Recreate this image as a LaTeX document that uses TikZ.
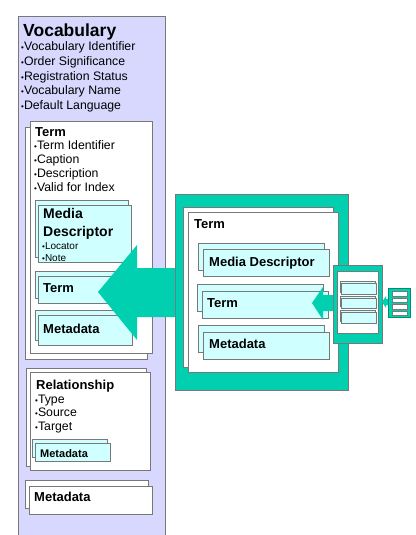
\documentclass[tikz,border=0pt]{standalone}
\usepackage{fontspec}
\setmainfont{Liberation Sans}
\definecolor{lav}{RGB}{216,216,255}
\definecolor{tealA}{RGB}{0,208,176}
\definecolor{tealD}{RGB}{0,140,110}
\definecolor{cyanl}{RGB}{208,255,255}
\definecolor{bord}{RGB}{120,120,120}
\newcommand\bul{{\fontsize{8}{8}\selectfont •}}
\tikzset{
  cardbox/.style={draw=bord,line width=0.6pt,anchor=north west,inner sep=0pt,outer sep=0pt},
  hdtxt/.style={anchor=base west,inner sep=0pt,font=\bfseries\fontsize{13}{15}\selectfont},
  bigtxt/.style={anchor=base west,inner sep=0pt,font=\bfseries\fontsize{17.5}{20}\selectfont},
  itemtxt/.style={anchor=base west,inner sep=0pt,font=\fontsize{12.3}{14}\selectfont},
  smalltxt/.style={anchor=base west,inner sep=0pt,font=\fontsize{10}{12}\selectfont},
  tealfill/.style={fill=tealA,draw=none}
}
% name, x1, y1, x2, y2, dx, dy, fill
\newcommand\cardpair[8]{%
  \node[cardbox,fill=#8,minimum width={#4-#2},minimum height={#5-#3}] (#1b) at ({#2+#6},{#3+#7}) {};
  \node[cardbox,fill=#8,minimum width={#4-#2},minimum height={#5-#3}] (#1) at (#2,#3) {};
}
\begin{document}
\begin{tikzpicture}[x=1pt,y=-1pt]
\useasboundingbox (0,0) rectangle (415,535);
% Vocabulary container
\node[cardbox,fill=lav,minimum width=147,minimum height=520] (voc) at (18,16) {};
\node[bigtxt] (vocT) at (23,37) {Vocabulary};
\foreach \t [count=\i from 0] in {Vocabulary Identifier,Order Significance,Registration Status,Vocabulary Name,Default Language}
  \node[itemtxt] (vi\i) at (21,{51+14.5*\i}) {\bul\t};
% Left Term card
\cardpair{lterm}{30}{121}{152}{353}{-5}{6}{white}
\node[hdtxt] (ltermT) at (35,136) {Term};
\foreach \t [count=\i from 0] in {Term Identifier,Caption,Description,Valid for Index}
  \node[itemtxt] (ti\i) at (34,{149+14.3*\i}) {\bul\t};
\cardpair{lmd}{38}{205}{131}{262}{-3}{-5}{cyanl}
\node[hdtxt,font=\bfseries\fontsize{14}{16}\selectfont] (lmdT1) at (43,218) {Media};
\node[hdtxt,font=\bfseries\fontsize{14}{16}\selectfont] (lmdT2) at (43,236) {Descriptor};
\node[smalltxt] (lmdI1) at (42,249) {\bul Locator};
\node[smalltxt] (lmdI2) at (42,261) {\bul Note};
\cardpair{lt}{38}{276}{132}{303}{-3}{-5}{cyanl}
\node[hdtxt] (ltT) at (43,292) {Term};
\cardpair{lmeta}{38}{315}{132}{345}{-3}{-5}{cyanl}
\node[hdtxt] (lmetaT) at (43,333) {Metadata};
% Relationship card
\cardpair{rel}{30}{372}{150}{470}{-4}{-4}{white}
\node[hdtxt] (relT) at (36,389) {Relationship};
\foreach \t [count=\i from 0] in {Type,Source,Target}
  \node[itemtxt] (ri\i) at (35,{403+13.5*\i}) {\bul\t};
\cardpair{rmeta}{35}{443}{110}{461}{-3}{-4}{cyanl}
\node[hdtxt,font=\bfseries\fontsize{11}{13}\selectfont] (rmetaT) at (40,457) {Metadata};
% Bottom Metadata card
\cardpair{bmeta}{29}{486}{152}{514}{-4}{-6}{white}
\node[hdtxt] (bmetaT) at (34,501) {Metadata};
% Right teal frame
\node[cardbox,fill=tealA,minimum width=173,minimum height=196] (frame) at (175,194) {};
% Big arrow
\coordinate (tip) at (98,292);
\fill[tealA] (tip) -- (137,245) -- (137,268) -- (frame.west |- 0,268) -- (frame.west |- 0,317) -- (137,317) -- (137,340) -- cycle;
% Right Term card
\cardpair{rterm}{188}{212}{338}{372}{-5}{-5}{white}
\node[hdtxt] (rtermT) at (194,228) {Term};
\cardpair{rmd}{203}{249}{329}{276}{-5}{-6}{cyanl}
\node[hdtxt] (rmdT) at (209,266) {Media Descriptor};
\cardpair{rt}{202}{291}{328}{318}{-5}{-7}{cyanl}
\node[hdtxt] (rtT) at (207,307) {Term};
\cardpair{rme}{203}{332}{329}{359}{-5}{-7}{cyanl}
\node[hdtxt] (rmeT) at (209,348) {Metadata};
% Small component
\node[cardbox,fill=tealA,minimum width=49,minimum height=78] (comp) at (333,265) {};
\node[cardbox,fill=white,minimum width=41,minimum height=62] (compin) at (337,271) {};
\cardpair{c1}{341}{283}{376}{294}{-1}{-2}{cyanl}
\cardpair{c2}{341}{298}{376}{308}{-1}{-2}{cyanl}
\cardpair{c3}{341}{312}{376}{323}{-1}{-2}{cyanl}
% Small arrow into Term
\fill[tealA] (312,303) -- (323,287) -- (323,295) -- (comp.west |- 0,295) -- (comp.west |- 0,311) -- (323,311) -- (323,320) -- cycle;
% Far-right icon
\node[cardbox,fill=tealA,draw=tealD,minimum width=22,minimum height=29] (icon) at (388,288) {};
\foreach \k in {0,1,2,3}
  \node[cardbox,fill=white,draw=bord,line width=0.4pt,minimum width=15,minimum height=4.5] (ic\k) at (392,{291.5+6.5*\k}) {};
\fill[tealA] (comp.east |- 0,302) -- (386,296) -- (386,299) -- (icon.west |- 0,299) -- (icon.west |- 0,305) -- (386,305) -- (386,308) -- cycle;
\end{tikzpicture}
\end{document}
